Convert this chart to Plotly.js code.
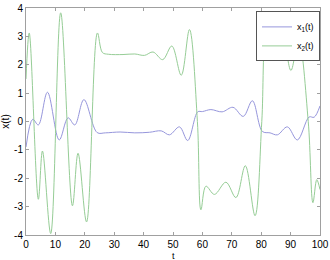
<!DOCTYPE html>
<html>
<head>
<meta charset="utf-8">
<script src="https://cdn.plot.ly/plotly-3.0.1.min.js"></script>
<style>html,body{margin:0;padding:0;background:#fff;}#chart{width:330px;height:260px;}</style>
</head>
<body>
<div id="chart"></div>
<script>
var t1 = [0, 2.3, 4.2, 7.3, 11.3, 14.3, 16.6, 19.7, 24.2, 27, 32, 37, 42, 46, 48.8, 52.2, 55, 58.4, 60, 62.9, 66.7, 70.4, 73.9, 77, 80.4, 83, 85.5, 88.9, 92.3, 96.3, 98, 100];
var x1 = [-0.9, 0.08, -0.12, 1.03, -0.65, 0.13, -0.12, 0.77, -0.39, -0.4, -0.37, -0.4, -0.38, -0.33, -0.47, -0.19, -0.67, 0.34, 0.35, 0.42, 0.34, 0.5, 0.18, 0.73, -0.35, -0.4, -0.47, -0.19, -0.65, 0.16, 0.15, 0.55];
var t2 = [0, 1.1, 4.2, 5.6, 8.4, 11.8, 15.8, 17.7, 20.6, 24.3, 26, 28, 33, 37, 40.3, 43.2, 46.5, 49.6, 52.8, 55.6, 58.3, 59.5, 61.2, 64.1, 68.0, 71.4, 74.6, 77.9, 80.2, 81.6, 83.8, 87.3, 90.1, 92.7, 96.0, 97.6, 98.9, 100];
var x2 = [1.5, 3.12, -2.74, -1.04, -3.95, 3.83, -2.97, -1.12, -3.54, 3.12, 2.43, 2.37, 2.36, 2.38, 2.33, 2.45, 2.18, 2.66, 1.63, 3.24, 0, -3.11, -2.28, -2.57, -2.14, -2.68, -1.56, -3.32, 0, 2.95, 2.26, 2.9, 1.8, 2.9, 0, -2.86, -2.05, -2.4];
var xTicks = [0, 10, 20, 30, 40, 50, 60, 70, 80, 90, 100];
var yTicks = [-4, -3, -2, -1, 0, 1, 2, 3, 4];

var fontFam = 'Liberation Sans, Arial, sans-serif';
var axisCommon = {
  showline: true, mirror: 'ticks', linecolor: '#a0a0a0', linewidth: 1,
  ticks: 'inside', ticklen: 3, tickcolor: '#a0a0a0',
  showgrid: false, zeroline: false, automargin: false,
  ticklabeloverflow: 'allow',
  tickfont: {family: fontFam, size: 10, color: '#000'}
};
var traces = [
  {x: t1, y: x1, type: 'scatter', mode: 'lines', name: 'x<sub>1</sub>(t)',
   line: {color: 'rgb(150,150,220)', width: 1, shape: 'spline', smoothing: 1}},
  {x: t2, y: x2, type: 'scatter', mode: 'lines', name: 'x<sub>2</sub>(t)',
   line: {color: 'rgb(150,205,150)', width: 1, shape: 'spline', smoothing: 1}}
];
var layout = {
  width: 330, height: 260,
  margin: {l: 26, r: 10, t: 8, b: 25},
  paper_bgcolor: '#fff', plot_bgcolor: '#fff',
  showlegend: true,
  legend: {x: 1, xanchor: 'right', y: 0.985, yanchor: 'top', bgcolor: '#fff',
    bordercolor: '#555', borderwidth: 1, itemwidth: 30, tracegroupgap: 0,
    font: {family: fontFam, size: 9, color: '#000'}},
  xaxis: Object.assign({}, axisCommon, {range: [0, 100], tickvals: xTicks, ticktext: xTicks.map(String), ticklabelstandoff: 0}),
  yaxis: Object.assign({}, axisCommon, {range: [-4, 4], tickvals: yTicks, ticktext: yTicks.map(String),
    title: {text: 'x(t)', font: {family: fontFam, size: 10, color: '#000'}, standoff: 4}}),
  annotations: [{text: 't', xref: 'paper', yref: 'paper', x: 0.5, y: -0.06, xanchor: 'center', yanchor: 'top',
    showarrow: false, font: {family: fontFam, size: 9, color: '#000'}}]
};
Plotly.newPlot('chart', traces, layout, {displayModeBar: false, staticPlot: true});
</script>
</body>
</html>
